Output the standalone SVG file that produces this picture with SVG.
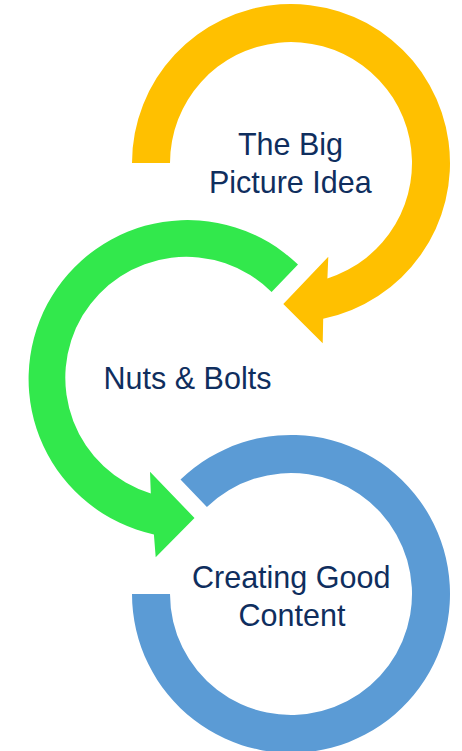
<svg xmlns="http://www.w3.org/2000/svg" width="462" height="751" viewBox="0 0 462 751">
  <style>
    .lbl { font-family: "Liberation Sans", Arial, sans-serif; font-size: 30.5px; fill: #0F2E5E; text-anchor: middle; }
    .yellow { fill: #FFC000; }
    .green { fill: #32E84C; }
    .blue { fill: #5B9BD5; }
  </style>
  <rect width="462" height="751" fill="#FFFFFF"/>
  <g id="node-big-picture">
    <path class="yellow" d="M132,163 A159,159 0 1 1 323.2,318.7 L322.7,343.3 L283.3,304 L328.3,256.7 L327.4,278.4 A121,121 0 1 0 170,163 Z"/>
    <text class="lbl" x="290.5" y="155">The Big</text>
    <text class="lbl" x="290.3" y="193.3">Picture Idea</text>
  </g>
  <g id="node-nuts-bolts">
    <path class="green" d="M298,264.6 A159,159 0 1 0 153.9,534.4 L155.7,557.3 L194.5,518 L150,471.7 L150.8,493.5 A121,121 0 1 1 271.6,292 Z"/>
    <text class="lbl" x="187.5" y="389.3">Nuts &amp; Bolts</text>
  </g>
  <g id="node-good-content">
    <path class="blue" d="M180.5,479.6 A159,159 0 1 1 132,594 L170,594 A121,121 0 1 0 206.9,507 Z"/>
    <text class="lbl" x="291.2" y="588.3">Creating Good</text>
    <text class="lbl" x="292" y="625.7">Content</text>
  </g>
  <g id="connectors"></g>
</svg>
